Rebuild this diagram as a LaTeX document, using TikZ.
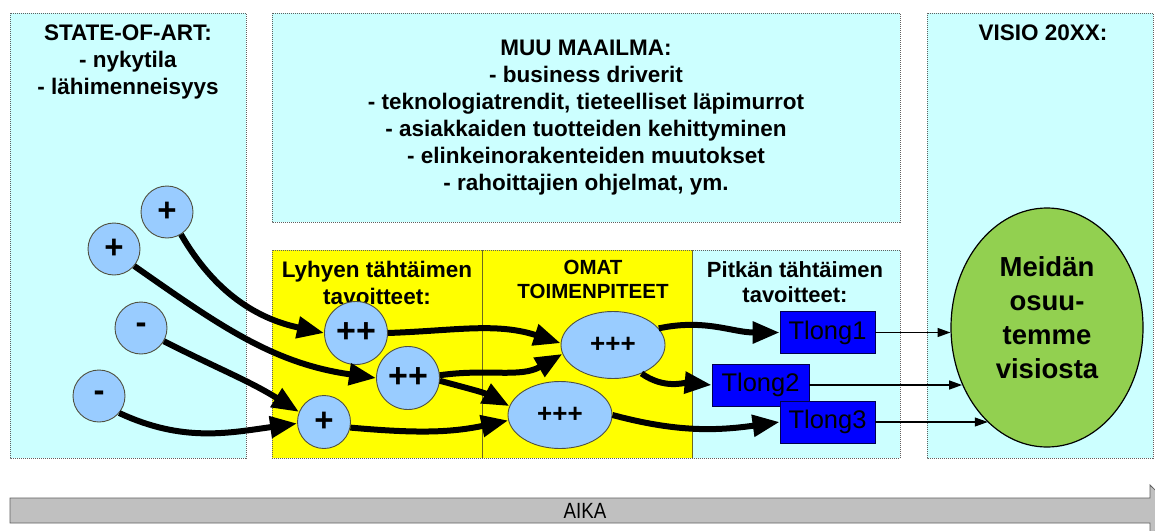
\documentclass[tikz,border=0pt]{standalone}
\usepackage{fontspec}
\setmainfont{Liberation Sans}
\usetikzlibrary{arrows.meta,shapes.geometric}
\definecolor{panelcyan}{HTML}{CCFFFF}
\definecolor{panelyel}{HTML}{FFFF00}
\definecolor{bub}{HTML}{99CCFF}
\definecolor{visgreen}{HTML}{92D050}
\definecolor{tblue}{HTML}{0000FF}
\definecolor{bargray}{HTML}{C0C0C0}
\definecolor{edgegray}{HTML}{606060}
\definecolor{bubedge}{HTML}{505040}
\newcommand\myfs[2]{\fontsize{#1}{#2}\selectfont}
\begin{document}
\begin{tikzpicture}[x=1pt,y=1pt,
  panel/.style={draw=edgegray, dash pattern=on 1pt off 1pt, line width=0.6pt, fill=panelcyan},
  ypanel/.style={draw=edgegray, dash pattern=on 1pt off 1pt, line width=0.6pt, fill=panelyel},
  title/.style={align=center, inner sep=0pt, anchor=north, font=\bfseries\myfs{22.5}{27}},
  bubble/.style={circle, draw=bubedge, line width=0.9pt, fill=bub, inner sep=0pt, minimum size=#1, font=\bfseries\myfs{33}{33}},
  oval/.style={ellipse, draw=bubedge, line width=0.9pt, fill=bub, inner sep=0pt, minimum width=104pt, minimum height=67pt, font=\bfseries\myfs{26}{26}},
  tbox/.style={rectangle, draw=black!70!blue, line width=0.8pt, fill=tblue, inner sep=0pt, minimum width=95pt, minimum height=42pt, font=\myfs{25.5}{25.5}, text=black},
  flow/.style={line width=6pt, draw=black, -{Triangle[length=27pt,width=21pt]}},
  thinarrow/.style={line width=1.2pt, draw=black, -{Triangle[length=13pt,width=9pt]}}
]
\clip (0,0) rectangle (1155,-530);
\fill[white] (0,0) rectangle (1155,-530);

% panels
\draw[panel] (10,-13) rectangle (246,-458);
\draw[panel] (272,-13) rectangle (900,-222);
\draw[panel] (927,-13) rectangle (1153,-458);
\draw[ypanel] (272,-250) rectangle (482,-458);
\draw[ypanel] (482,-250) rectangle (692,-458);
\draw[panel] (692,-250) rectangle (900,-458);
\draw[draw=olive!70!black, line width=0.8pt] (482,-250) -- (482,-458);
\draw[draw=olive!70!black, line width=0.8pt] (692,-250) -- (692,-458);

% panel titles
\node[title] (sttitle) at (128,-25) {STATE-OF-ART:\\- nykytila\\- lähimenneisyys};
\node[title] (muutitle) at (586,-40) {MUU MAAILMA:\\- business driverit\\- teknologiatrendit, tieteelliset läpimurrot\\- asiakkaiden tuotteiden kehittyminen\\- elinkeinorakenteiden muutokset\\- rahoittajien ohjelmat, ym.};
\node[title] (vistitle) at (1043,-25) {VISIO 20XX:};
\node[title] (lyhtitle) at (377,-261) {Lyhyen tähtäimen\\tavoitteet:};
\node[title, font=\bfseries\myfs{20.5}{24}] (omattitle) at (593,-260) {OMAT\\TOIMENPITEET};
\node[title, font=\bfseries\myfs{22}{25}] (pittitle) at (795,-261) {Pitkän tähtäimen\\tavoitteet:};

% state-of-art bubbles
\node[bubble=52pt] (p1) at (167,-212) {+};
\node[bubble=52pt] (p2) at (114,-249) {+};
\node[bubble=52pt] (m1) at (141,-328) {-};
\node[bubble=52pt] (m2) at (99,-396) {-};

% short-term goals
\node[bubble=63pt, font=\bfseries\myfs{34}{34}] (pp1) at (356,-333) {++};
\node[bubble=63pt, font=\bfseries\myfs{34}{34}] (pp2) at (408,-378) {++};
\node[bubble=53pt] (pl) at (324,-422) {+};

% own actions
\node[oval] (e1) at (613,-345) {+++};
\node[oval] (e2) at (560,-415) {+++};

% long-term goals
\node[tbox] (t1) at (827.5,-332.5) {Tlong1};
\node[tbox, minimum width=97pt] (t2) at (760.5,-385) {Tlong2};
\node[tbox] (t3) at (827.5,-422) {Tlong3};

% vision
\node[ellipse, draw=black, line width=1.2pt, fill=visgreen, inner sep=0pt, minimum width=192pt, minimum height=239pt] (vis) at (1047,-327.5) {};
\node[align=center, inner sep=0pt, font=\bfseries\myfs{27.5}{34}] (vistext) at (1047,-317.5) {Meidän\\osuu-\\temme\\visiosta};

% thick flows
\draw[flow] (p1.-58) to[out=-60,in=168] (pp1.west);
\draw[flow] (p2.-40) to[out=-35,in=172] (pp2.west);
\draw[flow] (m1.-30) to[out=-27,in=148] (pl.158);
\draw[flow] (m2.-40) to[out=-25,in=188] (pl.183);
\draw[flow] (pp1.east) to[out=2,in=162] (e1.178);
\draw[flow] (pp2.5) to[out=8,in=210] (e1.190);
\draw[flow] (pp2.-5) to[out=-15,in=152] (e2.170);
\draw[flow] (pl.-12) to[out=-5,in=192] (e2.186);
\draw[flow] (e1.20) to[out=12,in=180] (t1.west);
\draw[flow] (e1.-45) to[out=-35,in=175] (t2.west);
\draw[flow] (e2.east) to[out=-15,in=188] (t3.west);

% thin arrows to vision
\draw[thinarrow] (t1.east) -- (t1.east -| vis.183);
\draw[thinarrow] (t2.east) -- (t2.east -| vis.214);
\draw[thinarrow] (t3.east) -- (t3.east -| vis.238);

% time bar
\draw[fill=bargray, draw=edgegray, line width=0.8pt] (10,-498) -- (1150,-498) -- (1150,-485) -- (1176,-510.5) -- (1150,-536) -- (1150,-523) -- (10,-523) -- cycle;
\node[inner sep=0pt, font=\myfs{22}{22}] (aika) at (585,-510.5) {\scalebox{0.85}[1]{AIKA}};
\end{tikzpicture}
\end{document}
